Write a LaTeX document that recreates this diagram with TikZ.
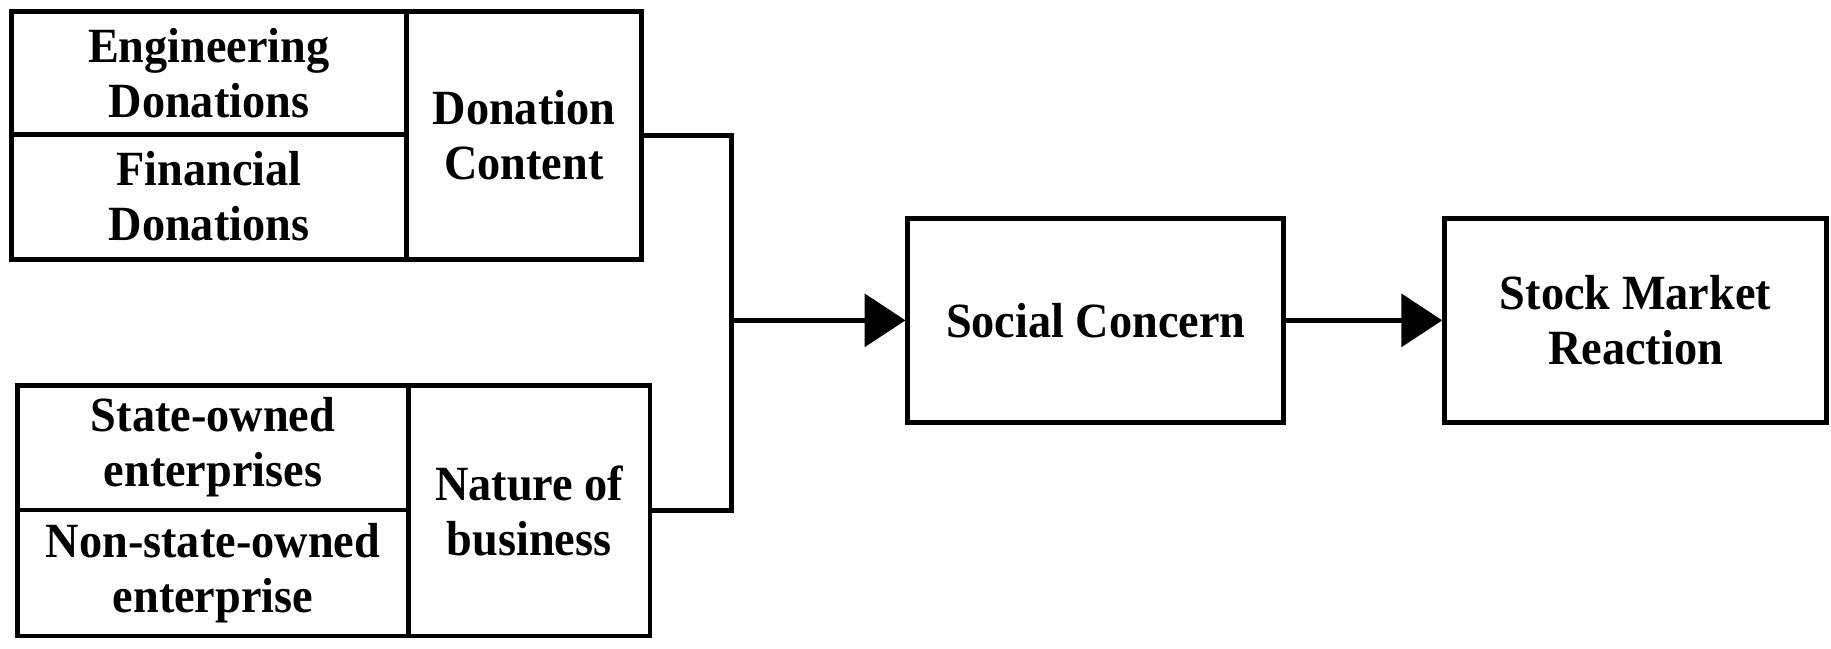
\documentclass[tikz,border=0pt]{standalone}
\usepackage{fontspec}
\setmainfont[FakeStretch=0.94]{Liberation Serif}
\usepackage{tikz}
\usetikzlibrary{arrows.meta}
\def\cellfont{\fontsize{12}{13.4}\selectfont\bfseries}

\begin{document}
\begin{tikzpicture}[cell/.style={draw,line width=1.2pt,inner sep=0pt,align=center,font=\cellfont},
                    flow/.style={line width=1.2pt}]
                \useasboundingbox (0,0) rectangle (15.69,5.56);
                \node[cell,minimum width=3.38cm,minimum height=1.05cm] (eng) at (1.79,4.935) {Engineering\\Donations};
                \node[cell,minimum width=3.38cm,minimum height=1.07cm] (fin) at (1.79,3.875) {Financial\\Donations};
                \node[cell,minimum width=2.02cm,minimum height=2.12cm] (dcontent) at (4.49,4.40) {Donation\\Content};
                \node[cell,minimum width=3.35cm,minimum height=1.07cm] (soe) at (1.825,1.725) {State-owned\\enterprises};
                \node[cell,minimum width=3.35cm,minimum height=1.08cm] (nsoe) at (1.825,0.65) {Non-state-owned\\enterprise};
                \node[cell,minimum width=2.07cm,minimum height=2.15cm] (nature) at (4.535,1.185) {Nature of\\business};
                \node[cell,minimum width=3.22cm,minimum height=1.75cm] (social) at (9.39,2.815) {Social Concern};
                \node[cell,minimum width=3.27cm,minimum height=1.75cm] (stock) at (14.015,2.815) {Stock Market\\Reaction};
                \coordinate (jn) at (6.27,2.815);
                \draw[flow] (dcontent.east) -| (jn) |- (nature.east);
                \draw[flow,-{Triangle[length=3.5mm,width=4.5mm]}] (jn) -- (social.west);
                \draw[flow,-{Triangle[length=3.5mm,width=4.5mm]}] (social) -- (stock);
            \end{tikzpicture}
\end{document}
